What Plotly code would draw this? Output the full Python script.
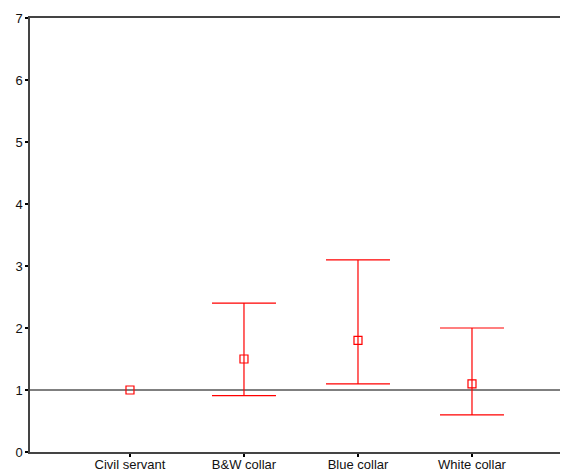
import plotly.graph_objects as go

# Occupational groups and their estimates with confidence limits
categories = ["Civil servant", "B&W collar", "Blue collar", "White collar"]
estimates = [1.0, 1.5, 1.8, 1.1]
upper = [1.0, 2.4, 3.1, 2.0]
lower = [1.0, 0.91, 1.1, 0.6]
y_ticks = [0, 1, 2, 3, 4, 5, 6, 7]

xs = list(range(len(categories)))
# the reference group has no interval, so only the others get whiskers
ci_idx = [i for i in xs if upper[i] != lower[i]]
ci_x = [xs[i] for i in ci_idx]
ci_y = [estimates[i] for i in ci_idx]
err_plus = [upper[i] - estimates[i] for i in ci_idx]
err_minus = [estimates[i] - lower[i] for i in ci_idx]

red = "#ff0000"
axis_col = "#444444"

fig = go.Figure()

# reference line at 1
fig.add_shape(type="line", xref="paper", x0=0, x1=1, yref="y", y0=1, y1=1,
              line=dict(color="#000000", width=1), layer="below")

fig.add_trace(go.Scatter(
    x=ci_x, y=ci_y, mode="markers",
    marker=dict(size=1, color="rgba(0,0,0,0)"),
    error_y=dict(type="data", symmetric=False, array=err_plus, arrayminus=err_minus,
                 color=red, thickness=1.2, width=32),
    showlegend=False, hoverinfo="skip",
))
fig.add_trace(go.Scatter(
    x=xs, y=estimates, mode="markers",
    marker=dict(symbol="square-open", size=8, color=red, line=dict(width=1.2, color=red)),
    showlegend=False,
))

font = dict(family="Liberation Sans, Arial, sans-serif", size=13, color="#111111")

fig.update_layout(
    width=565, height=474,
    margin=dict(l=30, r=5, t=18, b=22, autoexpand=False),
    paper_bgcolor="white", plot_bgcolor="white",
    font=font,
    xaxis=dict(
        range=[-0.877, 3.772], tickvals=xs, ticktext=categories,
        showgrid=False, zeroline=False, automargin=False,
        showline=True, linecolor=axis_col, linewidth=1.5, mirror=True,
        ticks="outside", ticklen=3, tickwidth=2, tickcolor="#000000",
        ticklabelstandoff=-3, tickfont=font,
    ),
    yaxis=dict(
        range=[0, 7], tickvals=y_ticks,
        showgrid=False, zeroline=False, automargin=False,
        showline=True, linecolor=axis_col, linewidth=1.5,
        ticks="outside", ticklen=3, tickwidth=2, tickcolor="#000000",
        tickfont=font,
    ),
)

fig.write_html("out.html")
